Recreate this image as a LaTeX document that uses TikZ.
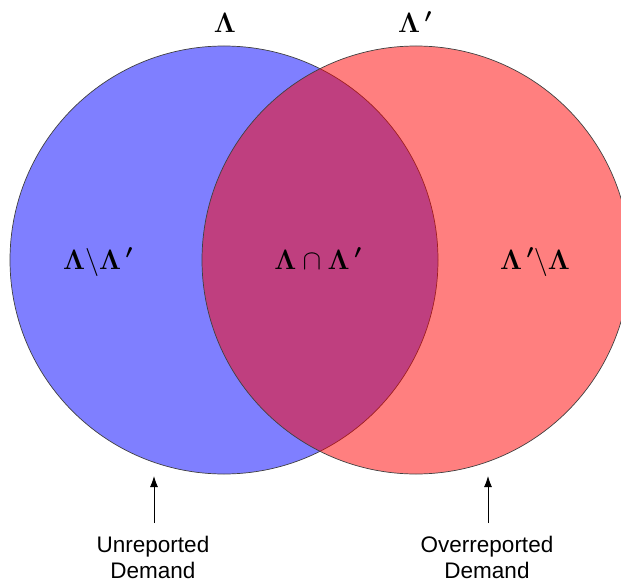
\RequirePackage{fix-cm}
\documentclass[tikz,border=0pt]{standalone}
\usepackage{amsmath}
\usepackage[no-math]{fontspec}
\setsansfont{Liberation Sans}
\usetikzlibrary{arrows.meta}

\newcommand{\bprime}{\,^{\boldsymbol{\prime}}}

\tikzset{
  setcircle/.style={circle, draw=black!75, line width=0.7bp, minimum size=428bp, inner sep=0pt},
  setlabel/.style={font=\fontsize{28bp}{32bp}\selectfont, inner sep=0pt, anchor=base},
  notelabel/.style={font=\sffamily\fontsize{22.5bp}{26bp}\selectfont, align=center, anchor=north, inner sep=0pt},
  pointer/.style={-{Latex[length=11bp,width=8bp]}, line width=0.9bp}
}

\begin{document}
\begin{tikzpicture}[x=1bp, y=-1bp]
  \useasboundingbox (0,0) rectangle (621,586);
  \clip (0,0) rectangle (621,586);

  \node (lam) at (224,260) [setcircle, fill=blue, fill opacity=0.5] {};
  \node (lamp) at (416,260) [setcircle, fill=red, fill opacity=0.5] {};

  \node (toplam) at (225,33) [setlabel] {$\mathbf{\Lambda}$};
  \node (toplamp) at (415,33) [setlabel] {$\mathbf{\Lambda}\bprime$};

  \node (onlylam) at (98,269) [setlabel] {$\mathbf{\Lambda}\backslash\mathbf{\Lambda}\bprime$};
  \node (both) at (318,269) [setlabel] {$\mathbf{\Lambda}\cap\mathbf{\Lambda}\bprime$};
  \node (onlylamp) at (535,269) [setlabel] {$\mathbf{\Lambda}\bprime\backslash\mathbf{\Lambda}$};

  \node (unrep) at (153,536) [notelabel] {Unreported\\Demand};
  \node (overrep) at (487,536) [notelabel] {Overreported\\Demand};

  \coordinate (unreptip) at (154,476);
  \coordinate (overreptip) at (488,476);
  \draw[pointer] (154,523) -- (unreptip);
  \draw[pointer] (488,523) -- (overreptip);
\end{tikzpicture}
\end{document}
